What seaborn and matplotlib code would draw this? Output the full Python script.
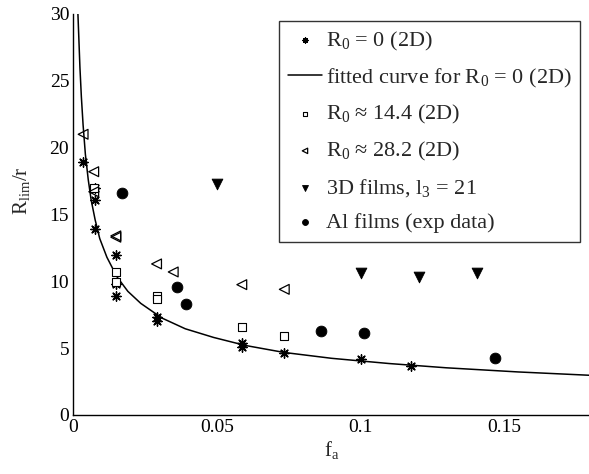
import numpy as np
import pandas as pd
import seaborn as sns
import matplotlib.pyplot as plt

# R0 = 0 (2D)
r0_x = [0.0035, 0.0075, 0.0075, 0.0075, 0.0148, 0.0148, 0.0148, 0.029, 0.029, 0.0587, 0.0587, 0.0734, 0.1003, 0.1175]
r0_y = [18.9, 17.0, 16.1, 13.9, 12.0, 9.8, 8.9, 7.35, 7.0, 5.36, 5.1, 4.6, 4.19, 3.69]

# fitted curve, points
fit_x = [0.0016, 0.0019, 0.0023, 0.0028, 0.0034, 0.0042, 0.0052, 0.0062, 0.0076, 0.0092,
         0.0117, 0.0152, 0.019, 0.0235, 0.0309, 0.039, 0.0489, 0.06, 0.0734, 0.09,
         0.11, 0.13, 0.155, 0.18]
fit_y = [30.0, 28.3, 26.0, 23.8, 21.7, 19.5, 17.6, 16.1, 14.6, 13.2,
         11.8, 10.34, 9.25, 8.35, 7.25, 6.45, 5.8, 5.2, 4.68, 4.24,
         3.85, 3.53, 3.22, 2.97]

# R0 ~ 14.4 (2D)
r14_x = [0.0073, 0.0148, 0.0148, 0.029, 0.029, 0.0587, 0.0735]
r14_y = [16.95, 10.7, 9.95, 8.9, 8.65, 6.55, 5.93]

# R0 ~ 28.2 (2D)
r28_x = [0.0034, 0.0071, 0.0071, 0.0148, 0.0148, 0.029, 0.0348, 0.0587, 0.0735]
r28_y = [21.0, 18.2, 16.7, 13.4, 13.3, 11.3, 10.7, 9.75, 9.4]

# 3D films
d3_x = [0.0502, 0.1004, 0.1206, 0.1405]
d3_y = [17.3, 10.65, 10.35, 10.65]

# Al films
al_x = [0.0171, 0.0361, 0.0392, 0.0863, 0.1013, 0.147]
al_y = [16.6, 9.58, 8.28, 6.32, 6.16, 4.24]

sns.set_style("white")
plt.rcParams["font.family"] = ["Liberation Serif", "DejaVu Serif"]
plt.rcParams["mathtext.fontset"] = "custom"
plt.rcParams["mathtext.rm"] = "Liberation Serif"
plt.rcParams["mathtext.it"] = "Liberation Serif"

fig = plt.figure(figsize=(5.89, 4.74), dpi=100)
ax = fig.add_axes([0.1245, 0.1245, 0.877, 0.846])

sns.scatterplot(x=r0_x, y=r0_y, marker=(8, 2, 0), s=45, color="k", linewidth=1.0,
                ax=ax, label="R$_0$ = 0 (2D)", zorder=3)
sns.lineplot(x=fit_x, y=fit_y, sort=False, color="k", linewidth=1.1, ax=ax,
             label="fitted curve for R$_0$ = 0 (2D)")
sns.scatterplot(x=r14_x, y=r14_y, marker="s", s=28, facecolor="white", edgecolor="k",
                linewidth=0.8, ax=ax, label="R$_0$ ≈ 14.4 (2D)", zorder=3)
sns.scatterplot(x=r28_x, y=r28_y, marker="<", s=50, facecolor="none", edgecolor="k",
                linewidth=0.9, ax=ax, label="R$_0$ ≈ 28.2 (2D)", zorder=3)
sns.scatterplot(x=d3_x, y=d3_y, marker="v", s=60, color="k", edgecolor="k",
                ax=ax, label="3D films, l$_3$ = 21", zorder=3)
sns.scatterplot(x=al_x, y=al_y, marker="o", s=60, color="k", edgecolor="k",
                ax=ax, label="Al films (exp data)", zorder=3)

ax.set_xlim(0, 0.18)
ax.set_ylim(0, 30)
ax.set_xticks([0, 0.05, 0.1, 0.15])
ax.set_xticklabels(["0", "0.05", "0.1", "0.15"])
ax.set_yticks([0, 5, 10, 15, 20, 25, 30])
ax.tick_params(direction="in", length=5, width=0.8, labelsize=14, colors="k", pad=3)
for s in ["top", "right"]:
    ax.spines[s].set_visible(False)
for s in ["left", "bottom"]:
    ax.spines[s].set_color("k")
    ax.spines[s].set_linewidth(1.0)

ax.set_xlabel("f$_{\\rm a}$", fontsize=15, labelpad=2)
ax.set_ylabel("R$_{\\rm lim}$/r", fontsize=15)
ax.yaxis.set_label_coords(-0.08, 0.56)

leg = ax.legend(loc="upper right", bbox_to_anchor=(0.985, 0.956), bbox_transform=fig.transFigure,
                borderaxespad=0, frameon=True, fancybox=False, fontsize=16, markerscale=0.55,
                handlelength=1.55, handletextpad=0.15, labelspacing=0.62, borderpad=0.4)
leg.get_frame().set_edgecolor("k")
leg.get_frame().set_linewidth(1.0)

fig.savefig("out.png", dpi=100)
